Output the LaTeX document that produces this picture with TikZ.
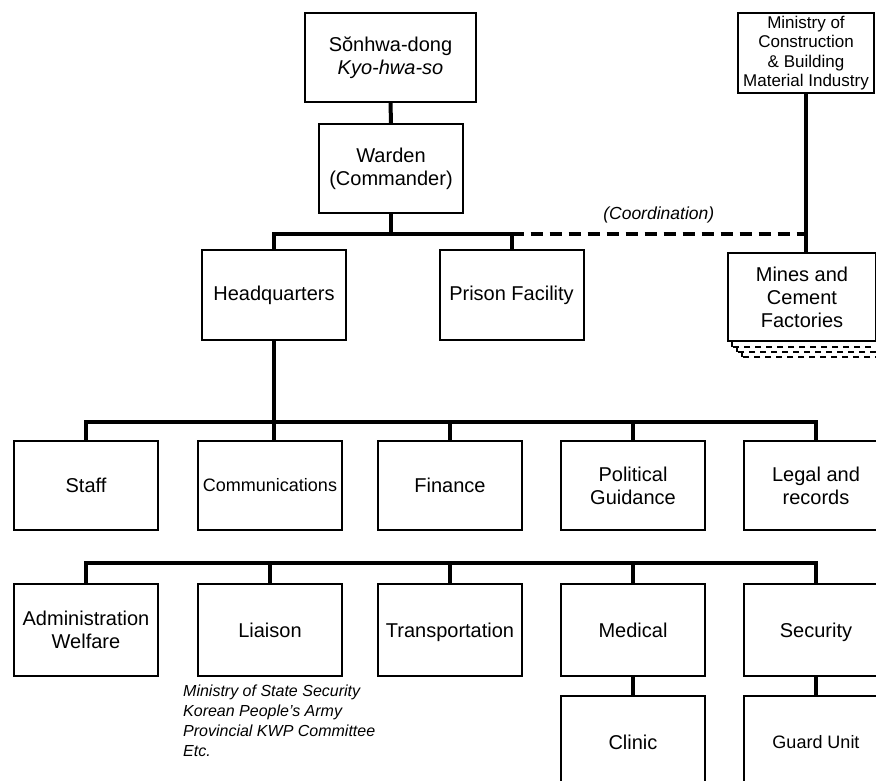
\documentclass[tikz,border=0pt]{standalone}
\usepackage{fontspec}
\setmainfont{Liberation Sans}
\usepackage{tikz}
\usetikzlibrary{positioning}
\usetikzlibrary{backgrounds}
\tikzset{unitbox/.style={draw, line width=2pt, fill=white, align=center, inner sep=0pt, minimum width=144pt, minimum height=89pt, font=\fontsize{20}{23}\selectfont}}
\tikzset{link/.style={line width=4pt}}
\tikzset{coordline/.style={line width=4pt, dash pattern=on 12pt off 7pt}}
\tikzset{stackbox/.style={draw, line width=1.5pt, fill=white, dash pattern=on 6pt off 5pt}}

\begin{document}
\begin{tikzpicture}[x=1pt,y=-1pt]
\useasboundingbox (0,0) rectangle (876,781);
\clip (0,0) rectangle (876,781);
% top of the prison
\node[unitbox, minimum width=171pt] (sonhwa) at (390.5,57.5) {Sŏnhwa-dong\\\textit{Kyo-hwa-so}};
\node[unitbox] (warden) at (391,168.5) {Warden\\(Commander)};
\node[unitbox, minimum height=90pt] (hq) at (274,295) {Headquarters};
\node[unitbox, minimum height=90pt] (prison) at (511.5,295) {Prison Facility};
% ministry side
\node[unitbox, minimum width=136pt, minimum height=80pt, font=\fontsize{17}{19.5}\selectfont] (ministry) at (806,53) {Ministry of\\Construction\\\& Building\\Material Industry};
\node[unitbox, minimum width=148pt, minimum height=88pt] (mines) at (802,297) {Mines and\\Cement\\Factories};
\begin{scope}[on background layer]
\foreach \k in {3,2,1}
  \draw[stackbox] ([shift={(5*\k,5*\k)}]mines.south west) rectangle ([shift={(5*\k,5*\k)}]mines.north east);
\end{scope}
% departments
\node[unitbox] (staff) at (86,485.5) {Staff};
\node[unitbox, font=\fontsize{18}{23}\selectfont] (comm) at (270,485.5) {Communications};
\node[unitbox] (finance) at (450,485.5) {Finance};
\node[unitbox] (political) at (633,485.5) {Political\\Guidance};
\node[unitbox] (legal) at (816,485.5) {Legal and\\records};
\node[unitbox, minimum height=92pt] (admin) at (86,630) {Administration\\Welfare};
\node[unitbox, minimum height=92pt] (liaison) at (270,630) {Liaison};
\node[unitbox, minimum height=92pt, text depth=0pt] (transport) at (450,630) {Transportation};
\node[unitbox, minimum height=92pt] (medical) at (633,630) {Medical};
\node[unitbox, minimum height=92pt, text depth=0pt] (security) at (816,630) {Security};
\node[unitbox, minimum height=92pt, below=18pt of medical] (clinic) {Clinic};
\node[unitbox, minimum height=92pt, below=18pt of security, text depth=0pt, font=\fontsize{18}{23}\selectfont] (guard) {Guard Unit};
\node[anchor=north west, align=left, inner sep=0pt, font=\itshape\fontsize{16}{20}\selectfont] (liaisonnote) at (183,685) {Ministry of State Security\\Korean People’s Army\\Provincial KWP Committee\\Etc.};
% connectors
\coordinate (bus0) at (391,234);
\coordinate (bus1) at (274,422);
\coordinate (bus2) at (450,563);
\draw[link] (sonhwa.south) -- (warden.north);
\draw[link] (warden.south) -- (bus0);
\draw[link] (hq.north) |- (bus0) -| (prison.north);
\draw[coordline] (bus0 -| prison.north) -- (bus0 -| ministry.south) node[midway, above=9pt, inner sep=0pt, font=\itshape\fontsize{17.5}{20}\selectfont] (coordlabel) {(Coordination)};
\draw[link] (ministry.south) -- (ministry.south |- mines.north);
\draw[link] (hq.south) -- (bus1 |- comm.north);
\draw[link] (staff.north) |- (bus1) -| (legal.north);
\foreach \u in {finance,political}
  \draw[link] (\u.north) -- (\u.north |- bus1);
\draw[link] (admin.north) |- (bus2) -| (security.north);
\foreach \u in {liaison,transport,medical}
  \draw[link] (\u.north) -- (\u.north |- bus2);
\draw[link] (medical.south) -- (clinic.north);
\draw[link] (security.south) -- (guard.north);
\end{tikzpicture}
\end{document}
